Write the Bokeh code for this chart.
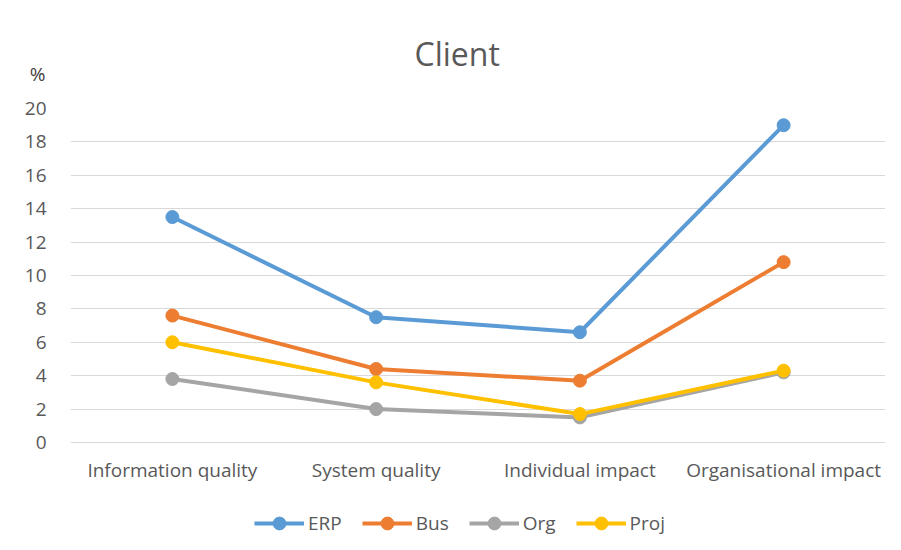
from bokeh.plotting import figure
from bokeh.models import Legend, LegendItem, Label, FixedTicker, Range1d
from bokeh.embed import file_html
from bokeh.resources import INLINE

categories = ["Information quality", "System quality", "Individual impact", "Organisational impact"]
erp = [13.5, 7.5, 6.6, 19.0]
bus = [7.6, 4.4, 3.7, 10.8]
org = [3.8, 2.0, 1.5, 4.2]
proj = [6.0, 3.6, 1.7, 4.3]
series_names = ["ERP", "Bus", "Org", "Proj"]
series_colors = ["#5B9BD5", "#ED7D31", "#A5A5A5", "#FFC000"]
y_ticks = [0, 2, 4, 6, 8, 10, 12, 14, 16, 18, 20]

FONT = "Open Sans"

# frame extends below 0 so that the legend can sit inside it, under the category labels
p = figure(x_range=categories, y_range=Range1d(-6.23, 20), frame_width=815, frame_height=438,
           output_backend="svg", toolbar_location=None,
           min_border_left=70, min_border_right=0, min_border_top=108, min_border_bottom=0)

p.title.text = "Client"
p.title.align = "left"
p.title.text_font = FONT
p.title.text_font_size = "32px"
p.title.text_font_style = "normal"
p.title.text_color = "#595959"
p.title.standoff = 16
p.title.offset = 344

p.outline_line_color = None
p.x_range.range_padding = 0.0
p.xgrid.grid_line_color = None
p.ygrid.grid_line_color = "#D9D9D9"
p.ygrid.grid_line_width = 1
p.yaxis.ticker = FixedTicker(ticks=y_ticks)
p.xaxis.fixed_location = 0

for ax in (p.xaxis[0], p.yaxis[0]):
    ax.axis_line_color = None
    ax.major_tick_line_color = None
    ax.minor_tick_line_color = None
    ax.major_label_text_font = FONT
    ax.major_label_text_font_size = "19px"
    ax.major_label_text_color = "#595959"
p.xaxis.major_label_standoff = 9
p.yaxis.major_label_standoff = 18

items = []
for name, vals, col in zip(series_names, [erp, bus, org, proj], series_colors):
    l = p.line(categories, vals, line_color=col, line_width=4)
    c = p.scatter(categories, vals, size=13, fill_color=col, line_color=col)
    items.append(LegendItem(label=name, renderers=[l, c]))

legend = Legend(items=items, orientation="horizontal", location=(184, 7),
                label_text_font=FONT, label_text_font_size="19px", label_text_color="#595959",
                glyph_width=50, glyph_height=32, spacing=20, label_standoff=4,
                border_line_color=None, background_fill_alpha=0, margin=0, padding=3)
p.add_layout(legend, "center")

pct = Label(x=-33, y=35, x_units="screen", y_units="screen", text="%",
            text_font=FONT, text_font_size="19px", text_color="#404040",
            text_align="center", text_baseline="middle")
p.add_layout(pct, "above")

open("out.html", "w").write(file_html(p, INLINE))
